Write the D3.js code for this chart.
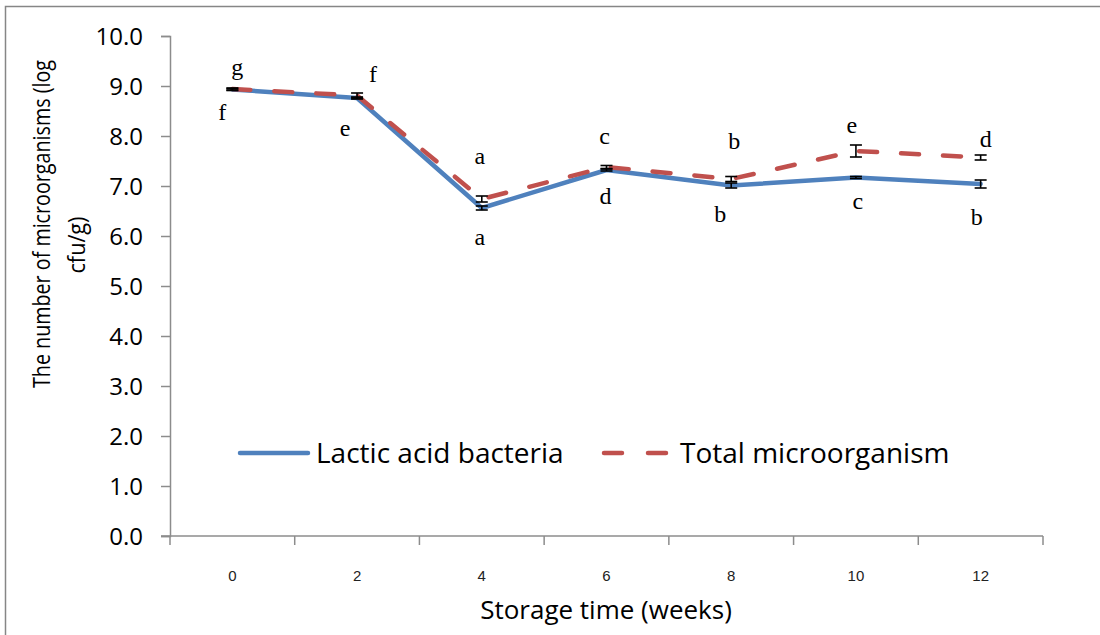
<!DOCTYPE html>
<html>
<head>
<meta charset="utf-8">
<script src="https://cdn.jsdelivr.net/npm/d3@7"></script>
<style>
  html, body { margin: 0; padding: 0; background: #fff; }
  svg { display: block; }
</style>
</head>
<body>
<svg id="chart" width="1100" height="635"></svg>
<script>
// ---- data ----
const weeks = ["0", "2", "4", "6", "8", "10", "12"];
const lacticAcidBacteria = [8.93, 8.76, 6.56, 7.32, 7.01, 7.17, 7.04];
const lacticAcidBacteriaErr = [0.02, 0.02, 0.04, 0.02, 0.05, 0.02, 0.08];
const totalMicroorganism = [8.94, 8.81, 6.74, 7.38, 7.14, 7.70, 7.57];
const totalMicroorganismErr = [0.02, 0.05, 0.06, 0.03, 0.05, 0.12, 0.05];
const lacticLetters = ["f", "e", "a", "d", "b", "c", "b"];
const totalLetters = ["g", "f", "a", "c", "b", "e", "d"];
const yTicks = [0, 1, 2, 3, 4, 5, 6, 7, 8, 9, 10];
const seriesNames = ["Lactic acid bacteria", "Total microorganism"];

// ---- layout (manual letter nudges in px, as placed in the original) ----
const lacticNudge = [[-10, 30], [-12, 38], [-2, 37], [-1, 34], [-11, 36], [2, 31], [-4, 41]];
const totalNudge = [[5, -14], [16, -14], [-2, -35], [-2, -23], [3, -30], [-4, -18], [5, -11]];

const svg = d3.select("#chart");
const plotL = 170, plotR = 1043, plotT = 36, plotB = 536;

// outer border
svg.append("rect").attr("x", 5.5).attr("y", 6.5).attr("width", 1200).attr("height", 700)
  .attr("fill", "none").attr("stroke", "#868686").attr("stroke-width", 1.5);

const x = d3.scaleBand().domain(weeks).range([plotL, plotR]).padding(0);
const y = d3.scaleLinear().domain([0, 10]).range([plotB, plotT]);
const cx = d => x(d) + x.bandwidth() / 2;

const axisColor = "#8c8c8c";

// y axis
const yAxis = svg.append("g").attr("transform", `translate(${plotL},0)`)
  .call(d3.axisLeft(y).tickValues(yTicks).tickFormat(d3.format(".1f")).tickSize(9).tickPadding(18));
yAxis.select(".domain").attr("stroke", axisColor).attr("stroke-width", 1.5);
yAxis.selectAll(".tick line").attr("stroke", axisColor).attr("stroke-width", 1.5);
yAxis.selectAll(".tick text").attr("font-family", "'Open Sans', sans-serif").attr("font-size", 24)
  .attr("fill", "#000").attr("dy", "0.36em").attr("x", -27);

// x axis with ticks at band boundaries
const xg = svg.append("g").attr("transform", `translate(0,${plotB})`);
xg.append("line").attr("x1", plotL - 9).attr("x2", plotR).attr("y1", 0).attr("y2", 0)
  .attr("stroke", axisColor).attr("stroke-width", 1.5);
const boundaries = weeks.map(w => x(w)).concat([plotR]);
xg.selectAll("line.tk").data(boundaries).enter().append("line").attr("class", "tk")
  .attr("x1", d => d).attr("x2", d => d).attr("y1", 0).attr("y2", 9)
  .attr("stroke", axisColor).attr("stroke-width", 1.5);
xg.selectAll("text").data(weeks).enter().append("text")
  .attr("x", d => cx(d)).attr("y", 45).attr("text-anchor", "middle")
  .attr("font-family", "'Liberation Sans', Arial, sans-serif").attr("font-size", 15)
  .attr("fill", "#222").text(d => d);

// axis titles
svg.append("text").attr("x", 606).attr("y", 619).attr("text-anchor", "middle")
  .attr("font-family", "'Open Sans', sans-serif").attr("font-size", 26).attr("fill", "#000")
  .text("Storage time (weeks)");
const yt = svg.append("text").attr("transform", "rotate(-90)")
  .attr("text-anchor", "middle").attr("font-family", "'Open Sans', sans-serif")
  .attr("font-size", 23).attr("fill", "#000");
yt.append("tspan").attr("x", -224).attr("y", 50)
  .attr("textLength", 328).attr("lengthAdjust", "spacingAndGlyphs")
  .text("The number of microorganisms (log");
yt.append("tspan").attr("x", -245).attr("y", 85)
  .attr("textLength", 57).attr("lengthAdjust", "spacingAndGlyphs")
  .text("cfu/g)");

// lines
const blue = "#4F81BD", red = "#C0504D";
const lineGen = vals => d3.line().x((d, i) => cx(weeks[i])).y(d => y(d))(vals);

svg.append("path").attr("d", lineGen(lacticAcidBacteria)).attr("fill", "none")
  .attr("stroke", blue).attr("stroke-width", 4.5).attr("stroke-linejoin", "round").attr("stroke-linecap", "round");
svg.append("path").attr("d", lineGen(totalMicroorganism)).attr("fill", "none")
  .attr("stroke", red).attr("stroke-width", 4.5).attr("stroke-dasharray", "18,24")
  .attr("stroke-linejoin", "round").attr("stroke-linecap", "round");

// error bars
function errBars(vals, errs) {
  const g = svg.append("g").attr("stroke", "#000").attr("stroke-width", 1.6);
  vals.forEach((v, i) => {
    const xc = cx(weeks[i]);
    const y1 = y(v + errs[i]), y0 = y(v - errs[i]);
    g.append("line").attr("x1", xc).attr("x2", xc).attr("y1", y1).attr("y2", y0);
    g.append("line").attr("x1", xc - 6).attr("x2", xc + 6).attr("y1", y1).attr("y2", y1);
    g.append("line").attr("x1", xc - 6).attr("x2", xc + 6).attr("y1", y0).attr("y2", y0);
  });
}
errBars(lacticAcidBacteria, lacticAcidBacteriaErr);
errBars(totalMicroorganism, totalMicroorganismErr);

// significance letters
function letters(vals, lets, nudge) {
  svg.append("g").selectAll("text").data(vals).enter().append("text")
    .attr("x", (d, i) => cx(weeks[i]) + nudge[i][0])
    .attr("y", (d, i) => y(d) + nudge[i][1])
    .attr("text-anchor", "middle")
    .attr("font-family", "'Liberation Serif', 'Times New Roman', serif")
    .attr("font-size", 24).attr("fill", "#000")
    .text((d, i) => lets[i]);
}
letters(lacticAcidBacteria, lacticLetters, lacticNudge);
letters(totalMicroorganism, totalLetters, totalNudge);

// legend
const lg = svg.append("g").attr("font-family", "'Open Sans', sans-serif").attr("font-size", 28);
lg.append("line").attr("x1", 240).attr("x2", 308).attr("y1", 453).attr("y2", 453)
  .attr("stroke", blue).attr("stroke-width", 4.5).attr("stroke-linecap", "round");
lg.append("text").attr("x", 316).attr("y", 463).text(seriesNames[0]);
lg.append("line").attr("x1", 604).attr("x2", 666).attr("y1", 453).attr("y2", 453)
  .attr("stroke", red).attr("stroke-width", 4.5).attr("stroke-linecap", "round").attr("stroke-dasharray", "18,26");
lg.append("text").attr("x", 680).attr("y", 463).text(seriesNames[1]);
</script>
</body>
</html>
